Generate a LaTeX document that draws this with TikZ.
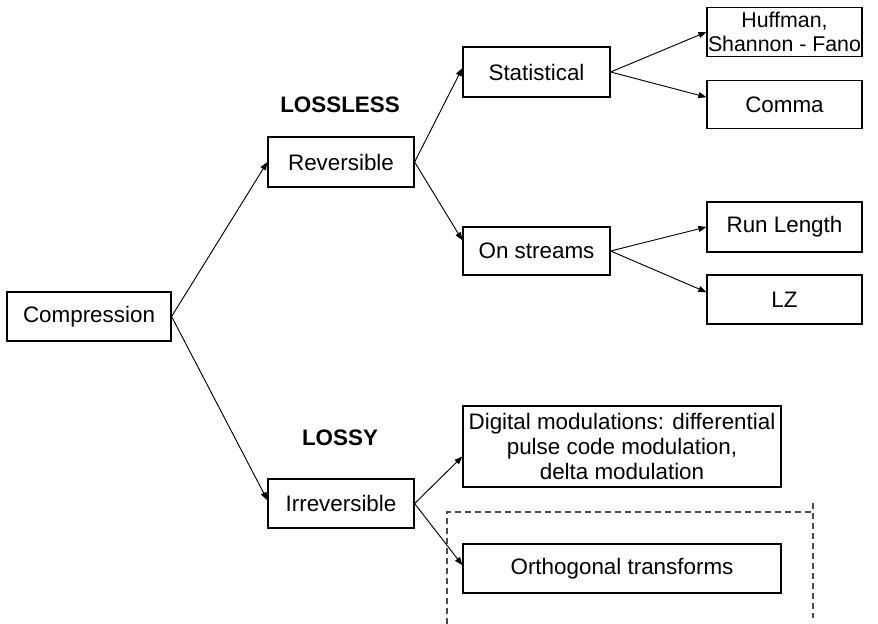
\documentclass[tikz,border=0pt]{standalone}
\usepackage{fontspec}
\setmainfont{Liberation Sans}
\usetikzlibrary{arrows.meta}
\begin{document}
\begin{tikzpicture}[x=0.75pt,y=-0.75pt,
  box/.style={draw,line width=0.9pt,inner sep=0pt,align=center,
    font=\fontsize{16.8}{19}\selectfont},
  arr/.style={-{Triangle[length=6pt,width=4.5pt]},line width=0.7pt},
  frame/.style={draw=black!70,dash pattern=on 4.5pt off 3pt,line width=1.1pt},
  title/.style={font=\fontsize{16.8}{19}\selectfont\bfseries}]
\useasboundingbox (0,0) rectangle (878,624);
% tree of methods
\node[box,minimum width=123pt,minimum height=36.75pt] (comp) at (89,316.5) {Compression};
\node[box,minimum width=109.5pt,minimum height=37.5pt] (rev) at (341,162) {Reversible};
\node[box,minimum width=109.5pt,minimum height=36.75pt] (irrev) at (341,503.5) {Irreversible};
\node[box,minimum width=110.25pt,minimum height=37.5pt] (stat) at (536.5,72) {Statistical};
\node[box,minimum width=110.25pt,minimum height=36pt] (streams) at (536.5,251) {On streams};
\node[box,minimum width=116.25pt,minimum height=36.75pt,font=\fontsize{16}{17.5}\selectfont]
  (huff) at (784.5,32) {Huffman,\\Shannon - Fano};
\node[box,minimum width=116.25pt,minimum height=36pt] (comma) at (784.5,104.5) {Comma};
\node[box,minimum width=116.25pt,minimum height=37.5pt] (runlen) at (784.5,227) {Run Length};
\node[box,minimum width=116.25pt,minimum height=36.75pt] (lz) at (784.5,299.5) {LZ};
\node[box,minimum width=238.5pt,minimum height=60.75pt] (digit) at (622,446.5)
  {Digital modulations: differential\\pulse code modulation,\\delta modulation};
\node[box,minimum width=238.5pt,minimum height=36.75pt] (ortho) at (622,568.5) {Orthogonal transforms};
\node[title] (lossless) at (340,105) {LOSSLESS};
\node[title] (lossy) at (340,438) {LOSSY};
% connectors
\draw[arr] (comp.east) -- (rev.west);
\draw[arr] (comp.east) -- ([yshift=2.5pt]irrev.west);
\draw[arr] (rev.east) -- ([yshift=3pt]stat.west);
\draw[arr] (rev.east) -- ([yshift=8pt]streams.west);
\draw[arr] (stat.east) -- (huff.west);
\draw[arr] (stat.east) -- ([yshift=5.5pt]comma.west);
\draw[arr] (streams.east) -- (runlen.west);
\draw[arr] (streams.east) -- ([yshift=5.5pt]lz.west);
\draw[arr] (irrev.east) -- ([yshift=-7.5pt]digit.west);
\draw[arr] (irrev.east) -- ([yshift=2.5pt]ortho.west);
% dashed frame
\coordinate (fl) at (447,624);
\coordinate (ft) at (447,512);
\coordinate (fr) at (813,512);
\draw[frame] (fl) -- (ft) -- (fr);
\draw[frame] (813,503) -- (813,618);
\end{tikzpicture}
\end{document}
